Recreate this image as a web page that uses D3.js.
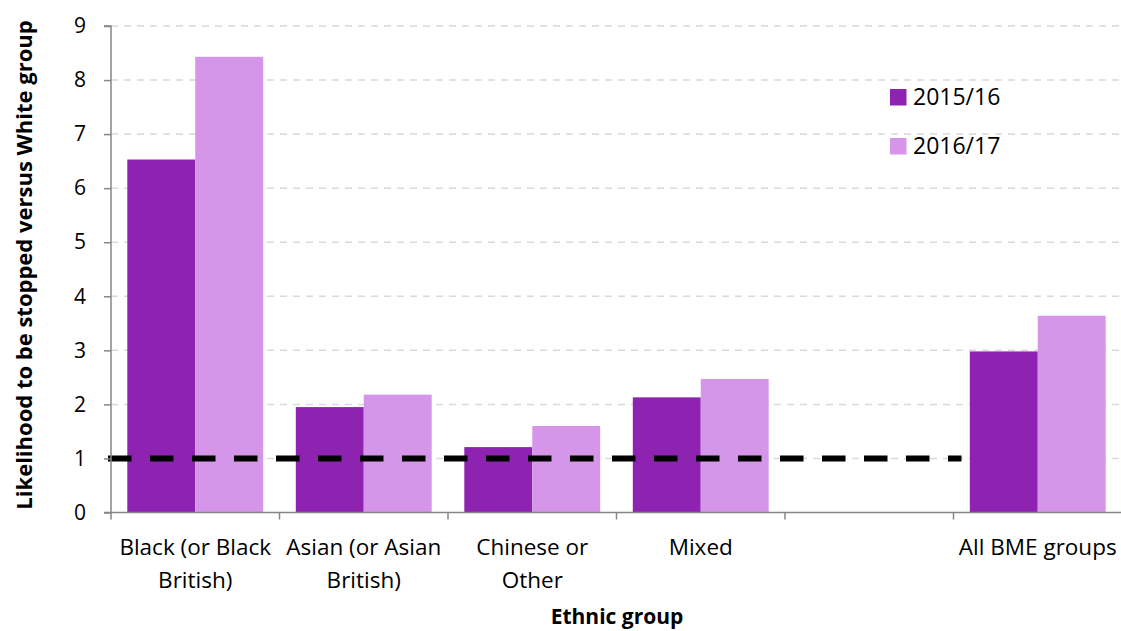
<!DOCTYPE html>
<html><head><meta charset="utf-8">
<script src="https://cdn.jsdelivr.net/npm/d3@7"></script>
<style>
body{margin:0;background:#fff;}
text{font-family:"Open Sans","Lato",sans-serif;fill:#000;}
</style></head>
<body><svg id="c" width="1121" height="631"></svg>
<script>
const categories = ["Black (or Black British)", "Asian (or Asian British)", "Chinese or Other", "Mixed", "", "All BME groups"];
const categoryLines = [["Black (or Black", "British)"], ["Asian (or Asian", "British)"], ["Chinese or", "Other"], ["Mixed"], [], ["All BME groups"]];
const series = ["2015/16", "2016/17"];
const values2015 = [6.53, 1.95, 1.21, 2.13, null, 2.98];
const values2016 = [8.43, 2.18, 1.60, 2.47, null, 3.64];
const yTicks = [0, 1, 2, 3, 4, 5, 6, 7, 8, 9];
const referenceValue = 1;
const referenceSpan = ["Black (or Black British)", ""];
const colors = ["#8e22b1", "#d596e9"];

const svg = d3.select("#c");
const pLeft = 111, pRight = 1122, pTop = 26, pBottom = 512.5;
const x = d3.scaleBand().domain(categories.map((d,i)=>i)).range([pLeft, pRight]).padding(0);
const x1 = d3.scaleBand().domain(series).range([0, x.bandwidth()]).paddingInner(0).paddingOuter(0.24);
const y = d3.scaleLinear().domain([0, 9]).range([pBottom, pTop]);
const color = d3.scaleOrdinal().domain(series).range(colors);

// gridlines
svg.append("g").selectAll("line").data(yTicks.filter(d=>d>0)).join("line")
  .attr("x1", pLeft).attr("x2", 1121).attr("y1", d=>y(d)).attr("y2", d=>y(d))
  .attr("stroke", "#d9d9d9").attr("stroke-width", 1.5).attr("stroke-dasharray", "7,6");

// bars
const data = [];
categories.forEach((c,i)=>{
  [values2015, values2016].forEach((vals,j)=>{
    if (vals[i] != null) data.push({i, s: series[j], v: vals[i]});
  });
});
svg.append("g").selectAll("rect").data(data).join("rect")
  .attr("x", d=>x(d.i)+x1(d.s)).attr("width", x1.bandwidth())
  .attr("y", d=>y(d.v)).attr("height", d=>y(0)-y(d.v))
  .attr("fill", d=>color(d.s));

// reference line
const i0 = categories.indexOf(referenceSpan[0]), i1 = categories.indexOf(referenceSpan[1]);
svg.append("line")
  .attr("x1", x(i0)-3).attr("x2", x(i1)+x.bandwidth()+8)
  .attr("y1", y(referenceValue)).attr("y2", y(referenceValue))
  .attr("stroke", "#000").attr("stroke-width", 6).attr("stroke-dasharray", "23.5,18.5");

// y axis
const yAxis = d3.axisLeft(y).tickValues(yTicks).tickSize(7).tickPadding(18).tickFormat(d3.format("d"));
const gy = svg.append("g").attr("transform", `translate(${pLeft},0)`).call(yAxis);
gy.select(".domain").attr("stroke", "#868686").attr("stroke-width", 1.5).attr("d", `M-7,${pTop}H0V${pBottom}H-7`);
gy.selectAll(".tick line").attr("stroke", "#868686").attr("stroke-width", 1.5);
gy.selectAll(".tick text").style("font-size", "21px").style("font-family", "'Open Sans',sans-serif").attr("fill", "#000");

// x axis
svg.append("line").attr("x1", pLeft).attr("x2", pRight).attr("y1", pBottom).attr("y2", pBottom)
  .attr("stroke", "#868686").attr("stroke-width", 1.5);
svg.append("g").selectAll("line").data(categories.map((d,i)=>i)).join("line")
  .attr("x1", d=>x(d)).attr("x2", d=>x(d)).attr("y1", pBottom).attr("y2", pBottom+7)
  .attr("stroke", "#868686").attr("stroke-width", 1.5);
const xl = svg.append("g").selectAll("text").data(categoryLines).join("text")
  .attr("text-anchor", "middle").style("font-size", "22.5px")
  .attr("transform", (d,i)=>`translate(${x(i)+x.bandwidth()/2},555)`);
xl.selectAll("tspan").data(d=>d).join("tspan").attr("x", 0).attr("dy", (d,k)=>k===0?0:33).text(d=>d);

// axis titles
svg.append("text").attr("x", 617).attr("y", 624).attr("text-anchor", "middle")
  .style("font-size", "21px").style("font-weight", "bold").text("Ethnic group");
svg.append("text").attr("transform", "translate(32,265) rotate(-90)").attr("text-anchor", "middle")
  .style("font-size", "22px").style("font-weight", "bold").text("Likelihood to be stopped versus White group");

// legend
const lg = svg.append("g").selectAll("g").data(series).join("g")
  .attr("transform", (d,i)=>`translate(890,${89 + i*49})`);
lg.append("rect").attr("width", 16.5).attr("height", 16.5).attr("fill", d=>color(d));
lg.append("text").attr("x", 23).attr("y", 16).style("font-size", "23px").text(d=>d);
</script></body></html>
